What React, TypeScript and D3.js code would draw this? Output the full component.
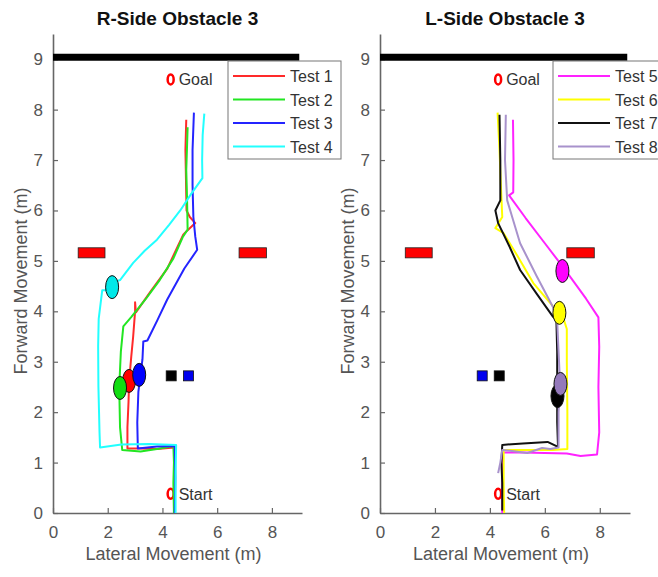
import { useEffect, useRef } from "react";
import * as d3 from "d3";

type Pt = [number, number];

// ---- data (metres) ----
const test1: Pt[] = [
  [4.45, 0], [4.42, 0.5], [4.45, 1.0], [4.42, 1.3], [3.8, 1.27], [3.2, 1.28],
  [2.72, 1.28], [2.72, 1.7], [2.76, 2.2], [2.78, 2.6], [2.86, 3.1], [2.93, 3.5],
  [3.0, 4.0], [3.0, 4.18], [3.03, 3.98], [3.55, 4.38], [4.17, 4.84], [4.76, 5.52],
  [4.9, 5.6], [5.2, 5.75], [5.0, 5.87], [4.88, 6.0], [4.86, 6.6], [4.84, 7.2], [4.87, 7.8],
];
const test2: Pt[] = [
  [4.42, 0], [4.4, 0.6], [4.42, 1.0], [4.4, 1.33], [3.8, 1.27], [3.2, 1.22],
  [2.53, 1.25], [2.45, 1.7], [2.42, 2.5], [2.48, 3.2], [2.57, 3.7], [2.85, 3.88],
  [3.37, 4.23], [3.9, 4.62], [4.4, 5.05], [4.75, 5.48], [4.92, 5.62], [4.9, 6.2],
  [4.87, 6.8], [4.9, 7.3], [4.92, 7.65],
];
const test3: Pt[] = [
  [4.45, 0], [4.47, 0.7], [4.45, 1.33], [3.8, 1.32], [3.1, 1.28], [3.08, 1.8],
  [3.12, 2.4], [3.2, 2.75], [3.27, 3.05], [3.3, 3.4], [3.45, 3.42], [3.82, 3.83],
  [4.17, 4.23], [4.8, 4.85], [5.27, 5.22], [5.2, 5.48], [5.13, 5.87], [5.1, 6.5],
  [5.1, 7.2], [5.15, 7.94],
];
const test4: Pt[] = [
  [4.48, 0], [4.48, 0.8], [4.5, 1.35], [3.5, 1.37], [2.5, 1.36], [1.72, 1.3],
  [1.7, 1.6], [1.66, 2.5], [1.65, 3.3], [1.67, 3.85], [1.8, 4.42], [1.92, 4.42],
  [2.1, 4.55], [2.45, 4.62], [2.93, 4.96], [3.35, 5.2], [3.8, 5.42], [4.25, 5.72],
  [4.65, 6.0], [5.05, 6.33], [5.46, 6.64], [5.45, 7.0], [5.47, 7.5], [5.53, 7.92],
];

const test5: Pt[] = [
  [4.45, 0], [4.45, 0.6], [4.47, 1.2], [5.2, 1.2], [6.0, 1.19], [6.8, 1.18],
  [7.3, 1.13], [7.9, 1.16], [7.98, 1.6], [7.95, 2.5], [7.98, 3.3], [7.95, 3.88],
  [7.5, 4.25], [6.7, 4.85], [6.0, 5.35], [5.3, 5.85], [4.7, 6.3], [4.85, 6.36],
  [4.86, 7.0], [4.84, 7.8],
];
const test6: Pt[] = [
  [4.52, 0], [4.5, 0.6], [4.5, 1.25], [5.5, 1.25], [6.3, 1.25], [6.82, 1.27],
  [6.82, 2.0], [6.8, 3.0], [6.8, 3.65], [6.66, 3.89], [6.3, 4.1], [5.58, 4.56],
  [5.0, 5.1], [4.5, 5.55], [4.2, 5.65], [4.45, 5.87], [4.4, 6.5], [4.35, 7.2], [4.28, 7.94],
];
const test7: Pt[] = [
  [4.45, 0.05], [4.45, 0.6], [4.42, 1.0], [4.45, 1.35], [5.2, 1.38], [6.1, 1.41],
  [6.48, 1.31], [6.45, 1.8], [6.45, 2.5], [6.45, 3.2], [6.42, 3.83], [6.3, 3.89],
  [5.7, 4.35], [5.1, 4.82], [4.7, 5.3], [4.3, 5.75], [4.2, 6.0], [4.38, 6.2],
  [4.38, 7.0], [4.35, 7.9],
];
const test8: Pt[] = [
  [4.3, 0.79], [4.38, 1.0], [4.45, 1.25], [4.8, 1.23], [5.36, 1.19], [5.9, 1.29],
  [6.2, 1.27], [6.5, 1.3], [6.5, 2.0], [6.55, 2.6], [6.5, 3.2], [6.45, 3.8],
  [6.3, 4.08], [5.7, 4.7], [5.1, 5.35], [4.85, 5.8], [4.63, 6.2], [4.55, 7.0], [4.58, 7.9],
];

const leftNames = ["Test 1", "Test 2", "Test 3", "Test 4"];
const rightNames = ["Test 5", "Test 6", "Test 7", "Test 8"];
const leftSeries = [test1, test2, test3, test4];
const rightSeries = [test5, test6, test7, test8];

// where each test stopped (ellipse markers)
const leftStops: Pt[] = [[2.78, 2.62], [2.45, 2.48], [3.15, 2.74], [2.16, 4.48]];
const rightStops: Pt[] = [[6.64, 4.8], [6.53, 3.97], [6.46, 2.32], [6.57, 2.56]];

const goalPt: Pt = [4.3, 8.6];
const startPt: Pt = [4.3, 0.38];
const wallY = 9.04;
const obstacleX: Pt[] = [[0.92, 1.9], [6.8, 7.8]];
const obstacleY: Pt = [5.06, 5.26];
const leftSquares: Pt[] = [[4.32, 2.72], [4.95, 2.72]];
const rightSquares: Pt[] = [[3.72, 2.72], [4.34, 2.72]];

const xTicks = [0, 2, 4, 6, 8];
const yTicks = [0, 1, 2, 3, 4, 5, 6, 7, 8, 9];

// ---- styles ----
const leftColors = ["#ff2a2a", "#22e622", "#2424ff", "#22ffff"];
const rightColors = ["#ff22ff", "#ffff00", "#111111", "#a892cc"];
const leftFill = ["#ff0000", "#11dd11", "#0000ff", "#00e8e8"];
const rightFill = ["#ff00ff", "#ffff00", "#000000", "#9479bb"];
const leftSquareColors = ["#000000", "#0000ee"];
const rightSquareColors = ["#0000ee", "#000000"];
const font = "'Liberation Sans', Arial, sans-serif";

interface Panel {
  title: string;
  x0: number;
  x1: number;
  names: string[];
  series: Pt[][];
  colors: string[];
  fills: string[];
  stops: Pt[];
  squares: Pt[];
  squareColors: string[];
  legendX: number;
}

const panels: Panel[] = [
  {
    title: "R-Side Obstacle 3", x0: 53, x1: 302, names: leftNames, series: leftSeries,
    colors: leftColors, fills: leftFill, stops: leftStops, squares: leftSquares,
    squareColors: leftSquareColors, legendX: 228,
  },
  {
    title: "L-Side Obstacle 3", x0: 380, x1: 630, names: rightNames, series: rightSeries,
    colors: rightColors, fills: rightFill, stops: rightStops, squares: rightSquares,
    squareColors: rightSquareColors, legendX: 553,
  },
];

export default function App() {
  const svgRef = useRef<SVGSVGElement | null>(null);

  useEffect(() => {
    if (!svgRef.current) return;
    const svg = d3.select(svgRef.current);
    svg.selectAll("*").remove();

    panels.forEach((p) => {
      const x = d3.scaleLinear().domain([0, 9.1]).range([p.x0, p.x1]);
      const y = d3.scaleLinear().domain([0, 9.5]).range([513, 34]);
      const g = svg.append("g");

      // axes
      const yAxis = g
        .append("g")
        .attr("transform", `translate(${p.x0},0)`)
        .call(d3.axisLeft(y).tickValues(yTicks).tickSize(-5).tickSizeOuter(0).tickPadding(10));
      const xAxis = g
        .append("g")
        .attr("transform", `translate(0,${y(0)})`)
        .call(d3.axisBottom(x).tickValues(xTicks).tickSize(-5).tickSizeOuter(0).tickPadding(13));
      [yAxis, xAxis].forEach((a) => {
        a.select(".domain").attr("stroke", "#666").attr("stroke-width", 1.6);
        a.selectAll(".tick line").attr("stroke", "#666").attr("stroke-width", 1.2);
        a.selectAll("text")
          .attr("fill", "#555")
          .style("font-family", font)
          .style("font-size", "17px");
      });

      // title and axis labels
      g.append("text")
        .attr("x", (p.x0 + p.x1) / 2)
        .attr("y", 25)
        .attr("text-anchor", "middle")
        .style("font-family", font)
        .style("font-size", "19px")
        .style("font-weight", "bold")
        .attr("fill", "#111")
        .text(p.title);
      g.append("text")
        .attr("x", (p.x0 + p.x1) / 2 - 4)
        .attr("y", 560)
        .attr("text-anchor", "middle")
        .style("font-family", font)
        .style("font-size", "18px")
        .attr("fill", "#555")
        .text("Lateral Movement (m)");
      g.append("text")
        .attr("transform", `translate(${p.x0 - 26},${y(4.6)}) rotate(-90)`)
        .attr("text-anchor", "middle")
        .style("font-family", font)
        .style("font-size", "18px")
        .attr("fill", "#555")
        .text("Forward Movement (m)");

      // wall at the far end
      g.append("line")
        .attr("x1", x(0))
        .attr("x2", x(9))
        .attr("y1", y(wallY))
        .attr("y2", y(wallY))
        .attr("stroke", "#000")
        .attr("stroke-width", 7);

      // obstacles
      obstacleX.forEach(([a, b]) => {
        g.append("rect")
          .attr("x", x(a))
          .attr("y", y(obstacleY[1]))
          .attr("width", x(b) - x(a))
          .attr("height", y(obstacleY[0]) - y(obstacleY[1]))
          .attr("fill", "#ff0000")
          .attr("stroke", "#222")
          .attr("stroke-width", 0.8);
      });

      // small squares
      p.squares.forEach(([sx, sy], i) => {
        g.append("rect")
          .attr("x", x(sx) - 5)
          .attr("y", y(sy) - 5)
          .attr("width", 10)
          .attr("height", 10)
          .attr("fill", p.squareColors[i])
          .attr("stroke", "#111")
          .attr("stroke-width", 0.8);
      });

      // goal and start markers
      [
        { pt: goalPt, label: "Goal" },
        { pt: startPt, label: "Start" },
      ].forEach(({ pt, label }) => {
        g.append("ellipse")
          .attr("cx", x(pt[0]))
          .attr("cy", y(pt[1]))
          .attr("rx", 3)
          .attr("ry", 5)
          .attr("fill", "#fff")
          .attr("stroke", "#ff0000")
          .attr("stroke-width", 2.5);
        g.append("text")
          .attr("x", x(pt[0]) + 8)
          .attr("y", y(pt[1]) + 6)
          .style("font-family", font)
          .style("font-size", "16px")
          .attr("fill", "#333")
          .text(label);
      });

      // trajectories
      const line = d3
        .line<Pt>()
        .x((d) => x(d[0]))
        .y((d) => y(d[1]));
      p.series.forEach((s, i) => {
        g.append("path")
          .datum(s)
          .attr("d", line)
          .attr("fill", "none")
          .attr("stroke", p.colors[i])
          .attr("stroke-width", 2)
          .attr("stroke-linejoin", "round");
      });

      // stop ellipses
      p.stops.forEach(([sx, sy], i) => {
        g.append("ellipse")
          .attr("cx", x(sx))
          .attr("cy", y(sy))
          .attr("rx", 6.5)
          .attr("ry", 11.5)
          .attr("fill", p.fills[i])
          .attr("stroke", "#111")
          .attr("stroke-width", 1);
      });

      // legend
      const lg = g.append("g").attr("transform", `translate(${p.legendX},61)`);
      lg.append("rect")
        .attr("width", 113)
        .attr("height", 98)
        .attr("fill", "#fff")
        .attr("stroke", "#777")
        .attr("stroke-width", 1);
      p.names.forEach((n, i) => {
        const cy = 15 + i * 23.5;
        lg.append("line")
          .attr("x1", 5)
          .attr("x2", 57)
          .attr("y1", cy)
          .attr("y2", cy)
          .attr("stroke", p.colors[i])
          .attr("stroke-width", 2);
        lg.append("text")
          .attr("x", 62)
          .attr("y", cy + 6)
          .style("font-family", font)
          .style("font-size", "16px")
          .attr("fill", "#333")
          .text(n);
      });
    });
  }, []);

  return (
    <svg
      ref={svgRef}
      width={658}
      height={577}
      style={{ position: "absolute", left: 0, top: 0, background: "#fff" }}
    />
  );
}
